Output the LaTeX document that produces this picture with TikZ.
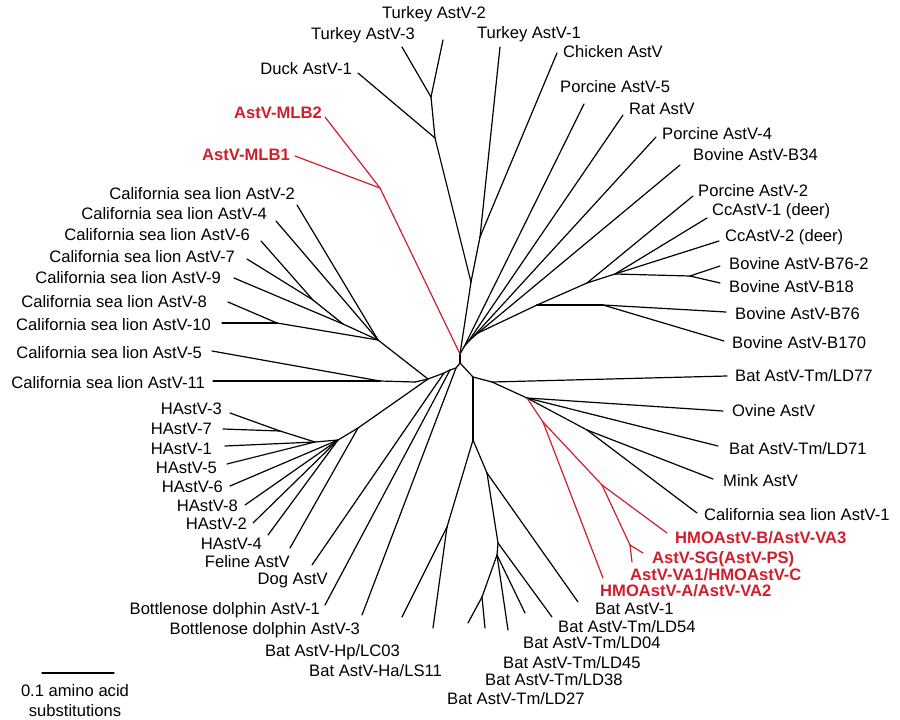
\documentclass[tikz,border=0pt]{standalone}
\usepackage{fontspec}
\setmainfont{Liberation Sans}
\usetikzlibrary{positioning}
\definecolor{mlbred}{RGB}{208,30,45}
\tikzset{
	branch/.style={line width=1.2pt, black, line cap=round, line join=round},
	redbranch/.style={branch, mlbred},
	taxon/.append style={
		inner sep=0pt,
		text height=12pt,
		text depth=0pt,
		font={\fontsize{16.6}{18}\selectfont}
	},
	novel/.append style={
		taxon,
		text=mlbred,
		font={\fontsize{16.6}{18}\selectfont\bfseries}
	},
}

\begin{document}
\begin{tikzpicture}[x=1pt,y=-1pt]
\useasboundingbox (0,0) rectangle (900,720);

% inner nodes of the tree
\foreach \n/\x/\y in {c1/460/354, c2/460/363, av/471/282, tc/480/237, dk/435/138, tt/431/97,
	mlb/380/188, u1/464/347, u2/468/342, u3/472/338, u4/478/333, pb/537/305, qb/587/283,
	rb/615/274, bb/690/276, b7/603/305, r0/473/377, rr/492/382, rs/527/398, rm/587/430,
	rh/543/422, rv/602/485, rc/630/545, bt/473/440, hn/447/527, bn/487/473, ba/498/543,
	bc/497/555, bd/482/597, l0/456/368, la/450/370, lb/444/373, l1/428/379, l2/415/382,
	kk/378/340, km/343/324, k67/313/300, k810/277/323, n511/380/381, hf/358/428,
	h0/338/440, h1/315/442, h37/280/431}
	\coordinate (\n) at (\x,\y);

% tips
\foreach \n/\x/\y in {tk2/443/40, tk3/402/47, tk1/500/47, chk/557/53, dck/358/73,
	mlb2/325/117, mlb1/295/156, pc5/584/104, rat/623/115, pc4/656/137, b34/680/165,
	pc2/693/196, cc1/707/218, cc2/719/241, b762/720/266, b18/720/283, b76/726/312,
	b170/724/341, ld77/727/376, ovi/723/411, ld71/718/446, mink/713/479, csl1/697/513,
	hmob/667/533, sg/643/553, va1/632/562, hmoa/603/578, bat1/578/602, ld54/552/617,
	ld04/525/613, ld45/508/630, ld38/485/628, ld27/468/623, lsv/433/628, lcv/402/617,
	bd3/362/615, bd1/325/605, dog/312/565, fel/290/548, hv4/268/535, hv2/253/523,
	hv8/245/505, hv6/230/486, hv5/227/464, hv1/225/446, hv7/223/429, hv3/230/413,
	csl11/213/381, csl5/212/351, csl10/222/323, csl8/228/302, csl9/234/278,
	csl7/247/259, csl6/261/241, csl4/276/221, csl2/297/205}
	\coordinate (\n) at (\x,\y);

% branches
\foreach \a/\b in {c1/c2, c2/r0, c2/l0, c1/av, av/tc, tc/tk1, tc/chk, av/dk, dk/dck,
	dk/tt, tt/tk2, tt/tk3, c1/u1, u1/u2, u2/u3, u3/u4, u1/pc5, u2/rat, u3/pc4, u4/b34,
	u4/pb, pb/qb, qb/pc2, qb/rb, rb/cc1, rb/cc2, rb/bb, bb/b762, bb/b18, pb/b7, b7/b76,
	b7/b170, r0/rr, rr/ld77, rr/rs, rs/ovi, rs/ld71, rs/rm, rm/mink, rm/csl1, r0/bt,
	bt/hn, hn/lcv, hn/lsv, bt/bn, bn/bat1, bn/ba, ba/ld54, ba/bc, bc/ld04, bc/ld45,
	bc/bd, bd/ld38, bd/ld27, l0/la, la/lb, lb/l1, l0/bd3, la/bd1, lb/dog, l1/kk,
	kk/csl2, kk/csl4, kk/km, km/csl9, km/k67, k67/csl6, k67/csl7, kk/k810, k810/csl8,
	k810/csl10, l1/l2, l2/n511, n511/csl5, n511/csl11, l1/hf, hf/fel, hf/h0, h0/h1,
	h1/h37, h37/hv3, h37/hv7, h1/hv1, h1/hv5, h0/hv6, h0/hv8, h0/hv2, h0/hv4}
	\draw[branch] (\a) -- (\b);
\foreach \a/\b in {c1/mlb, mlb/mlb2, mlb/mlb1, rs/rh, rh/hmoa, rh/rv, rv/hmob, rv/rc,
	rc/sg, rc/va1}
	\draw[redbranch] (\a) -- (\b);

% labels, top and right
\node[taxon, anchor=west] (lab-tk2) at (382,13) {Turkey AstV-2};
\node[taxon, anchor=east] (lab-tk3) at (415,33) {Turkey AstV-3};
\node[taxon, anchor=west] (lab-tk1) at (477,32) {Turkey AstV-1};
\node[taxon, anchor=west] (lab-chk) at (563,51) {Chicken AstV};
\node[taxon, anchor=west] (lab-pc5) at (560,86) {Porcine AstV-5};
\node[taxon, anchor=west] (lab-rat) at (629,108) {Rat AstV};
\node[taxon, anchor=west] (lab-pc4) at (662,133) {Porcine AstV-4};
\node[taxon, anchor=west] (lab-b34) at (693,154) {Bovine AstV-B34};
\node[taxon, anchor=west] (lab-pc2) at (698,190) {Porcine AstV-2};
\node[taxon, anchor=west] (lab-cc1) at (712,209) {CcAstV-1 (deer)};
\node[taxon, anchor=west] (lab-cc2) at (725,235) {CcAstV-2 (deer)};
\node[taxon, anchor=west] (lab-b762) at (729,263) {Bovine AstV-B76-2};
\node[taxon, anchor=west] (lab-b18) at (729,286) {Bovine AstV-B18};
\node[taxon, anchor=west] (lab-b76) at (735,313) {Bovine AstV-B76};
\node[taxon, anchor=west] (lab-b170) at (732,342) {Bovine AstV-B170};
\node[taxon, anchor=west] (lab-ld77) at (735,375) {Bat AstV-Tm/LD77};
\node[taxon, anchor=west] (lab-ovi) at (732,410) {Ovine AstV};
\node[taxon, anchor=west] (lab-ld71) at (729,448) {Bat AstV-Tm/LD71};
\node[taxon, anchor=west] (lab-mink) at (723,480) {Mink AstV};
\node[taxon, anchor=west] (lab-csl1) at (704,514) {California sea lion AstV-1};
\node[novel, anchor=west] (lab-hmob) at (675,537) {HMOAstV-B/AstV-VA3};
\node[novel, anchor=west] (lab-sg) at (652,557) {AstV-SG(AstV-PS)};
\node[novel, anchor=west] (lab-va1) at (630,574) {AstV-VA1/HMOAstV-C};
\node[novel, anchor=west] (lab-hmoa) at (600,590) {HMOAstV-A/AstV-VA2};
\node[taxon, anchor=west] (lab-bat1) at (595,608) {Bat AstV-1};
\node[taxon, anchor=west] (lab-ld54) at (558,626) {Bat AstV-Tm/LD54};
\node[taxon, anchor=west] (lab-ld04) at (523,642) {Bat AstV-Tm/LD04};
\node[taxon, anchor=west] (lab-ld45) at (503,662) {Bat AstV-Tm/LD45};
\node[taxon, anchor=west] (lab-ld38) at (485,679) {Bat AstV-Tm/LD38};
\node[taxon, anchor=west] (lab-ld27) at (447,698) {Bat AstV-Tm/LD27};

% labels, left
\node[taxon, anchor=east] (lab-dck) at (352,68) {Duck AstV-1};
\node[novel, anchor=east] (lab-mlb2) at (322,112) {AstV-MLB2};
\node[novel, anchor=east] (lab-mlb1) at (290,154) {AstV-MLB1};
\node[taxon, anchor=east] (lab-csl2) at (295,193) {California sea lion AstV-2};
\node[taxon, anchor=east] (lab-csl4) at (267,213) {California sea lion AstV-4};
\node[taxon, anchor=east] (lab-csl6) at (250,234) {California sea lion AstV-6};
\node[taxon, anchor=east] (lab-csl7) at (235,256) {California sea lion AstV-7};
\node[taxon, anchor=east] (lab-csl9) at (221,277) {California sea lion AstV-9};
\node[taxon, anchor=east] (lab-csl8) at (207,301) {California sea lion AstV-8};
\node[taxon, anchor=east] (lab-csl10) at (211,324) {California sea lion AstV-10};
\node[taxon, anchor=east] (lab-csl5) at (202,352) {California sea lion AstV-5};
\node[taxon, anchor=east] (lab-csl11) at (205,382) {California sea lion AstV-11};
\node[taxon, anchor=east] (lab-hv3) at (222,408) {HAstV-3};
\node[taxon, anchor=east] (lab-hv7) at (212,428) {HAstV-7};
\node[taxon, anchor=east] (lab-hv1) at (212,448) {HAstV-1};
\node[taxon, anchor=east] (lab-hv5) at (217,467) {HAstV-5};
\node[taxon, anchor=east] (lab-hv6) at (223,486) {HAstV-6};
\node[taxon, anchor=east] (lab-hv8) at (238,505) {HAstV-8};
\node[taxon, anchor=east] (lab-hv2) at (247,523) {HAstV-2};
\node[taxon, anchor=east] (lab-hv4) at (262,543) {HAstV-4};
\node[taxon, anchor=east] (lab-fel) at (290,561) {Feline AstV};
\node[taxon, anchor=east] (lab-dog) at (328,578) {Dog AstV};
\node[taxon, anchor=east] (lab-bd1) at (320,608) {Bottlenose dolphin AstV-1};
\node[taxon, anchor=east] (lab-bd3) at (360,628) {Bottlenose dolphin AstV-3};
\node[taxon, anchor=east] (lab-lcv) at (400,650) {Bat AstV-Hp/LC03};
\node[taxon, anchor=east] (lab-lsv) at (442,670) {Bat AstV-Ha/LS11};

% scale bar
\coordinate (sb1) at (42,673);
\coordinate (sb2) at (114,673);
\draw[branch] (sb1) -- (sb2);
\node[taxon] (scale1) at (75,690) {0.1 amino acid};
\node[taxon] (scale2) [below=8pt of scale1] {substitutions};
\end{tikzpicture}
\end{document}
